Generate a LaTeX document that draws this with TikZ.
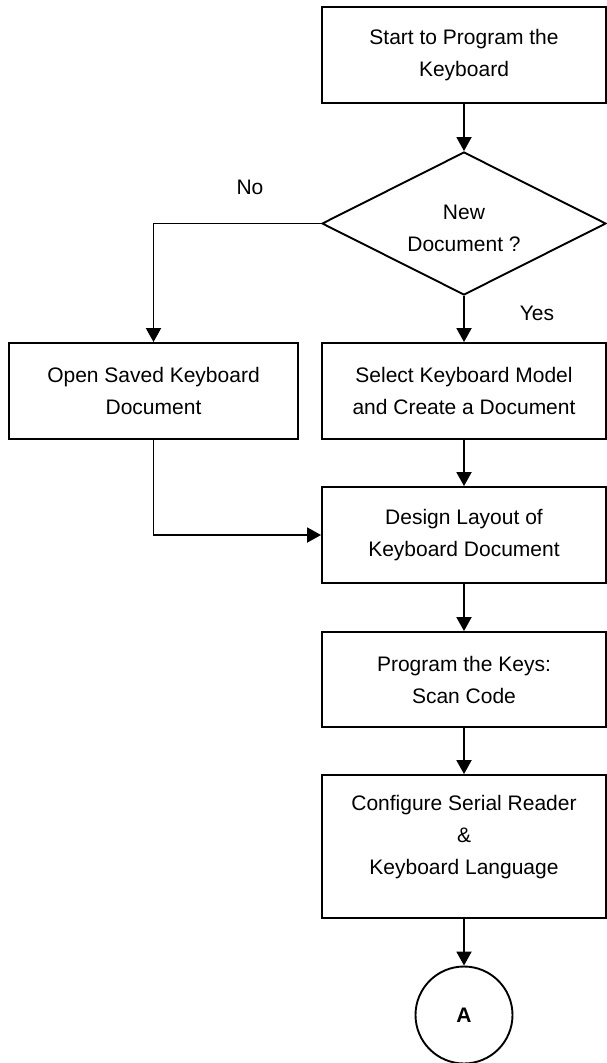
\documentclass[tikz,border=0pt]{standalone}
\usepackage{fontspec}
\setmainfont{Liberation Sans}
\usetikzlibrary{shapes.geometric,arrows.meta}
\begin{document}
\begin{tikzpicture}[x=1pt,y=-1pt,
  every node/.style={font=\fontsize{21}{32}\selectfont, align=center},
  box/.style={draw, line width=1.9pt, rectangle, inner sep=0pt, minimum width=284pt},
  dec/.style={draw, line width=1.9pt, diamond, inner sep=0pt, minimum width=284pt, minimum height=143pt},
  conn/.style={draw, line width=1.9pt, circle, inner sep=0pt, minimum size=97pt},
  arr/.style={line width=1.9pt, -{Triangle[width=15pt,length=14pt]}},
  lbl/.style={inner sep=0pt}
]
\useasboundingbox (0,0) rectangle (607,1063);
\node[box, minimum height=96pt] (start) at (464,55) {Start to Program the\\Keyboard};
\node[dec, label={[yshift=-5pt]center:New\\Document ?}] (dec) at (464,223.5) {};
\node[box, minimum width=289pt, minimum height=96pt] (open) at (153.5,391) {Open Saved Keyboard\\Document};
\node[box, minimum height=96pt] (select) at (464,391) {Select Keyboard Model\\and Create a Document};
\node[box, minimum height=96pt] (design) at (464,535) {Design Layout of\\Keyboard Document};
\node[box, minimum height=95pt] (prog) at (464,679.5) {Program the Keys:\\Scan Code};
\node[box, minimum height=143pt, label={[yshift=9.5pt]center:Configure Serial Reader\\\&\\Keyboard Language}] (conf) at (464,846.5) {};
\node[conn, font=\fontsize{21}{32}\selectfont\bfseries] (A) at (464,1015) {A};
\node[lbl] (no) at (250,187) {No};
\node[lbl] (yes) at (537,313) {Yes};
\draw[arr] (start.south) -- (dec.north);
\draw[arr] (dec.west) -| (open.north);
\draw[arr] (dec.south) -- (select.north);
\draw[arr] (select.south) -- (design.north);
\draw[arr] (open.south) |- (design.west);
\draw[arr] (design.south) -- (prog.north);
\draw[arr] (prog.south) -- (conf.north);
\draw[arr] (conf.south) -- (A.north);
\end{tikzpicture}
\end{document}
